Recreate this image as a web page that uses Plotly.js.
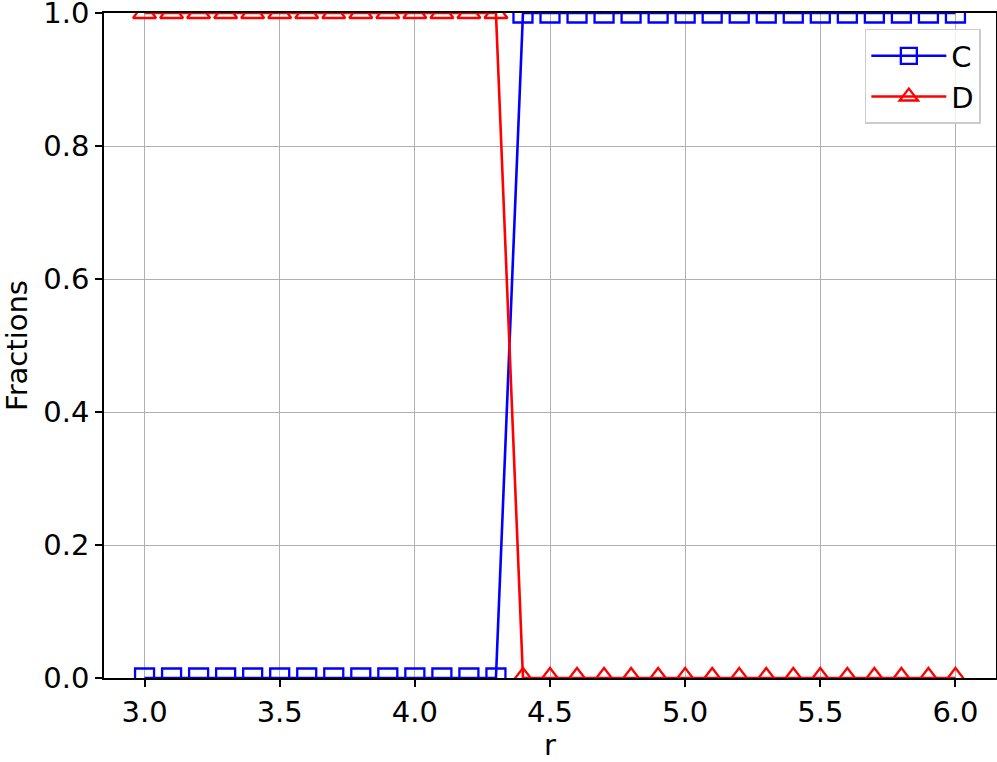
<!DOCTYPE html>
<html>
<head>
<meta charset="utf-8">
<script src="https://cdn.plot.ly/plotly-3.0.1.min.js"></script>
<style>
  body { margin: 0; background: #fff; }
  #chart { width: 997px; height: 762px; }
</style>
</head>
<body>
<div id="chart"></div>
<script>
// r values, 3.0 to 6.0 in steps of 0.1
let rValues = [3.0, 3.1, 3.2, 3.3, 3.4, 3.5, 3.6, 3.7, 3.8, 3.9, 4.0,
               4.1, 4.2, 4.3, 4.4, 4.5, 4.6, 4.7, 4.8, 4.9, 5.0,
               5.1, 5.2, 5.3, 5.4, 5.5, 5.6, 5.7, 5.8, 5.9, 6.0];
// fraction of cooperators (C) and defectors (D)
let fracC = [0, 0, 0, 0, 0, 0, 0, 0, 0, 0, 0, 0, 0, 0,
             1, 1, 1, 1, 1, 1, 1, 1, 1, 1, 1, 1, 1, 1, 1, 1, 1];
let fracD = [1, 1, 1, 1, 1, 1, 1, 1, 1, 1, 1, 1, 1, 1,
             0, 0, 0, 0, 0, 0, 0, 0, 0, 0, 0, 0, 0, 0, 0, 0, 0];
let xTicks = [3.0, 3.5, 4.0, 4.5, 5.0, 5.5, 6.0];
let yTicks = [0.0, 0.2, 0.4, 0.6, 0.8, 1.0];

let traceC = {
    x: rValues,
    y: fracC,
    mode: "lines+markers",
    name: "C",
    line: { color: "#0000ff", width: 2.6 },
    marker: { symbol: "square-open", size: 19, color: "#0000ff", line: { width: 2.3 } },
    cliponaxis: true
};
let traceD = {
    x: rValues,
    y: fracD,
    mode: "lines+markers",
    name: "D",
    line: { color: "#ff0000", width: 2.6 },
    marker: { symbol: "triangle-up-open", size: 20, color: "#ff0000", line: { width: 2.3 } },
    cliponaxis: true
};

let axisStyle = {
    showline: true,
    mirror: true,
    linecolor: "#000",
    linewidth: 1.5,
    ticks: "outside",
    ticklen: 7,
    tickwidth: 1.5,
    tickcolor: "#000",
    showgrid: true,
    gridcolor: "#b0b0b0",
    gridwidth: 1.3,
    zeroline: false,
    tickfont: { size: 29, color: "#000" },
    tickformat: ".1f",
    ticklabeloverflow: "allow"
};

let layout = {
    width: 997,
    height: 762,
    margin: { l: 104, r: 1, t: 13, b: 84 },
    paper_bgcolor: "#fff",
    plot_bgcolor: "#fff",
    font: { family: "DejaVu Sans", color: "#000" },
    xaxis: Object.assign({}, axisStyle, {
        range: [2.85, 6.15],
        tickvals: xTicks,
        title: { text: "r", font: { size: 29 }, standoff: 2 }
    }),
    yaxis: Object.assign({}, axisStyle, {
        range: [0, 1],
        tickvals: yTicks,
        title: { text: "Fractions", font: { size: 29 }, standoff: 8 }
    }),
    showlegend: true,
    legend: {
        x: 0.983,
        y: 0.976,
        xanchor: "right",
        yanchor: "top",
        bgcolor: "rgba(255,255,255,0.8)",
        bordercolor: "#cccccc",
        borderwidth: 1.5,
        font: { size: 29, color: "#000" },
        itemwidth: 75,
        tracegroupgap: 0
    }
};

Plotly.newPlot("chart", [traceC, traceD], layout, { displayModeBar: false });
</script>
</body>
</html>
